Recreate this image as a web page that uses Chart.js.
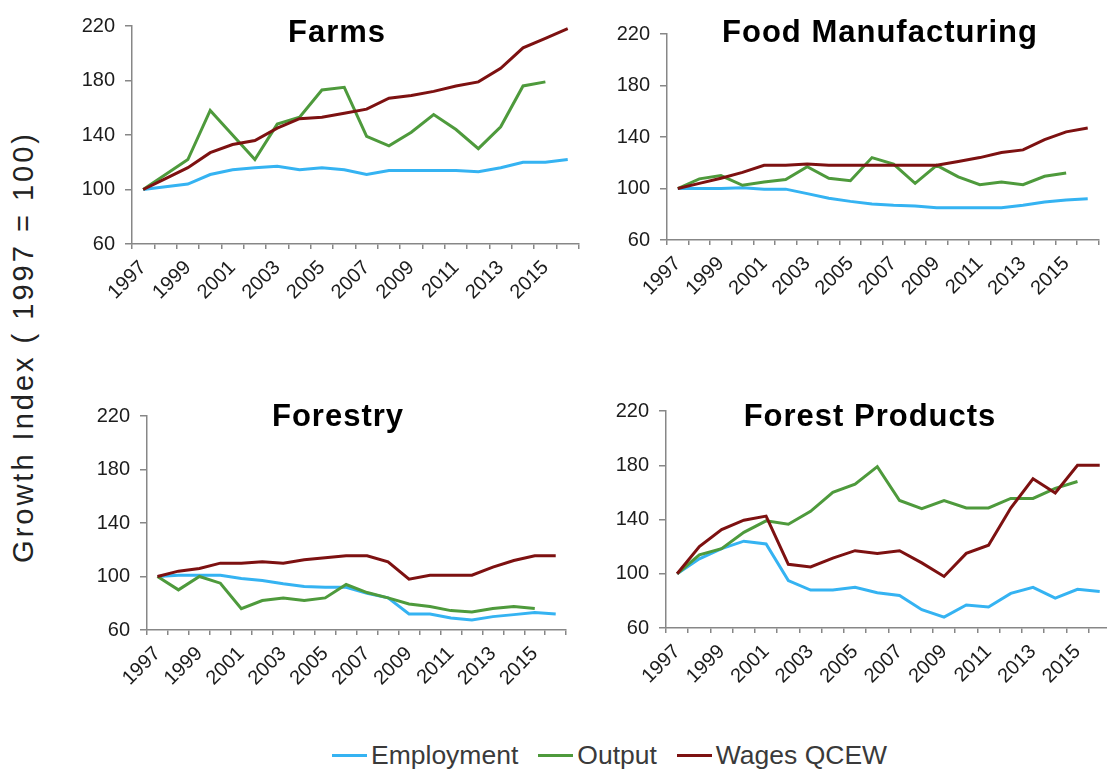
<!DOCTYPE html>
<html>
<head>
<meta charset="utf-8">
<title>Growth Index</title>
<script src="https://cdn.jsdelivr.net/npm/chart.js@4.4.1/dist/chart.umd.min.js"></script>
<style>
  html, body { margin: 0; padding: 0; background: #fff; overflow: hidden; }
  body { width: 1107px; height: 772px; position: relative; font-family: 'Liberation Sans', Arial, sans-serif; }
  canvas { position: absolute; }
  .title {
    position: absolute; font-size: 31px; line-height: 31px; font-weight: bold;
    letter-spacing: 1px; color: #000; white-space: nowrap; transform: translateX(-50%);
  }
  #ytitle {
    position: absolute; left: 23px; top: 347px; font-size: 29px; line-height: 29px;
    letter-spacing: 3px; color: #222; white-space: nowrap;
    transform: translate(-50%, -50%) rotate(-90deg);
  }
  #legend {
    position: absolute; left: 332px; top: 740px; height: 30px; display: flex; align-items: center;
    gap: 20px; font-size: 26.5px; line-height: 30px; color: #3a3a3a; white-space: nowrap;
  }
  #legend .item { display: flex; align-items: center; }
  #legend .swatch { width: 35px; height: 3px; margin-right: 4px; }
</style>
</head>
<body>
<canvas id="farms"></canvas>
<canvas id="food"></canvas>
<canvas id="forestry"></canvas>
<canvas id="forestProducts"></canvas>

<div class="title" style="left:337px; top:16px;">Farms</div>
<div class="title" style="left:880px; top:16px;">Food Manufacturing</div>
<div class="title" style="left:338px; top:400px;">Forestry</div>
<div class="title" style="left:870px; top:400px;">Forest Products</div>
<div id="ytitle">Growth Index ( 1997 = 100)</div>
<div id="legend"></div>

<script>
// Data
const years = ['1997', '1998', '1999', '2000', '2001', '2002', '2003', '2004', '2005', '2006',
               '2007', '2008', '2009', '2010', '2011', '2012', '2013', '2014', '2015', '2016'];
const seriesNames = ['Employment', 'Output', 'Wages QCEW'];
const yTicks = [60, 100, 140, 180, 220];

const farmsEmployment = [100, 102, 104, 111, 114.5, 116, 117, 114.5, 116, 114.5, 111, 114, 114, 114, 114, 113, 116, 120, 120, 122];
const farmsOutput = [100, 111, 122, 158, 140, 122, 148, 153, 173, 175, 139, 132, 142, 155, 144, 130, 146, 176, 179];
const farmsWages = [100, 108, 116, 127, 133, 136, 145, 152, 153, 156, 159, 167, 169, 172, 176, 179, 189, 204, 211, 218];

const foodEmployment = [100, 100, 100, 100.5, 99.5, 99.5, 96, 92.5, 90, 88, 87, 86.5, 85, 85, 85, 85, 87, 89.5, 91, 92];
const foodOutput = [100, 107.5, 110, 102.5, 105, 107, 117, 108, 106, 124, 119, 104, 118, 109, 103, 105, 103, 109.5, 112];
const foodWages = [100, 104, 108, 112.5, 118, 118, 119, 118, 118, 118, 118, 118, 118, 121, 124, 128, 130, 138, 144, 147];

const forestryEmployment = [100, 101, 101, 101, 98.5, 97, 94.5, 92.5, 92, 92, 87.5, 84, 72, 72, 69, 67.5, 70, 71.5, 73, 72];
const forestryOutput = [100, 90, 100, 95, 76, 82, 84, 82, 84, 94, 88, 84, 79.5, 77.5, 74.5, 73.5, 76, 77.5, 76];
const forestryWages = [100, 104, 106, 110, 110, 111, 110, 112.5, 114, 115.5, 115.5, 111, 98, 101, 101, 101, 107, 112, 115.5, 115.5];

const fpEmployment = [100, 111, 118.5, 124, 122, 95, 88, 88, 90, 86, 84, 73.5, 68, 77, 75.5, 85.5, 90, 82, 88.5, 87];
const fpOutput = [100, 114, 118.5, 130.5, 139, 136.5, 146, 160, 166, 179, 154, 148, 154, 148.5, 148.5, 155.5, 155.5, 163, 168];
const fpWages = [100, 120, 132.5, 139.5, 142.5, 107, 105, 111.5, 117, 115, 117, 108, 98, 115, 121, 148.5, 170, 159.5, 180, 180];

// Styles
const COLORS = ['#35b3f2', '#4e9a3c', '#7d1111'];
const AXIS_COLOR = '#878787';
const FONT = "'Liberation Sans', Arial, sans-serif";

// Space around each plot area inside its canvas
const Y_W = 60, X_H = 70, PAD_T = 14, PAD_R = 12;

function buildPanel(id, box, emp, out, wag) {
    const canvas = document.getElementById(id);
    canvas.width = box.r - box.l + Y_W + PAD_R;
    canvas.height = box.b - box.t + PAD_T + X_H;
    canvas.style.left = (box.l - Y_W) + 'px';
    canvas.style.top = (box.t - PAD_T) + 'px';

    const series = [emp, out, wag];
    return new Chart(canvas.getContext('2d'), {
        type: 'line',
        data: {
            labels: years,
            datasets: series.map((d, i) => ({
                label: seriesNames[i],
                data: d,
                borderColor: COLORS[i],
                backgroundColor: COLORS[i],
                borderWidth: 3,
                pointRadius: 0,
                tension: 0,
                fill: false,
                order: 3 - i
            }))
        },
        options: {
            responsive: false,
            animation: false,
            layout: { padding: { top: PAD_T, right: PAD_R, left: 0, bottom: 0 } },
            plugins: { legend: { display: false }, title: { display: false }, tooltip: { enabled: false } },
            scales: {
                x: {
                    type: 'category',
                    offset: true,
                    grid: { offset: true, drawOnChartArea: false, drawTicks: true, tickLength: 5, color: AXIS_COLOR, lineWidth: 1.5 },
                    border: { display: true, color: AXIS_COLOR, width: 1.5 },
                    ticks: {
                        autoSkip: false,
                        minRotation: 45,
                        maxRotation: 45,
                        padding: 7,
                        color: '#1c1c1c',
                        font: { family: FONT, size: 20 },
                        callback: (v, i) => (i % 2 === 0 ? years[i] : '')
                    },
                    afterFit: (s) => { s.height = X_H; }
                },
                y: {
                    min: yTicks[0],
                    max: yTicks[yTicks.length - 1],
                    afterBuildTicks: (s) => { s.ticks = yTicks.map(v => ({ value: v })); },
                    grid: { drawOnChartArea: false, drawTicks: true, tickLength: 7, color: AXIS_COLOR, lineWidth: 1.5 },
                    border: { display: true, color: AXIS_COLOR, width: 1.5 },
                    ticks: {
                        padding: 10,
                        color: '#1c1c1c',
                        font: { family: FONT, size: 20 }
                    },
                    afterFit: (s) => { s.width = Y_W; }
                }
            }
        }
    });
}

// Legend
const legend = document.getElementById('legend');
seriesNames.forEach((name, i) => {
    const item = document.createElement('span');
    item.className = 'item';
    const sw = document.createElement('span');
    sw.className = 'swatch';
    sw.style.background = COLORS[i];
    item.appendChild(sw);
    item.appendChild(document.createTextNode(name));
    legend.appendChild(item);
});

buildPanel('farms', { l: 132, t: 18, r: 580, b: 244 }, farmsEmployment, farmsOutput, farmsWages);
buildPanel('food', { l: 667, t: 26, r: 1100, b: 240 }, foodEmployment, foodOutput, foodWages);
buildPanel('forestry', { l: 147, t: 408, r: 568, b: 630 }, forestryEmployment, forestryOutput, forestryWages);
buildPanel('forestProducts', { l: 666, t: 403, r: 1112, b: 628 }, fpEmployment, fpOutput, fpWages);
</script>
</body>
</html>
